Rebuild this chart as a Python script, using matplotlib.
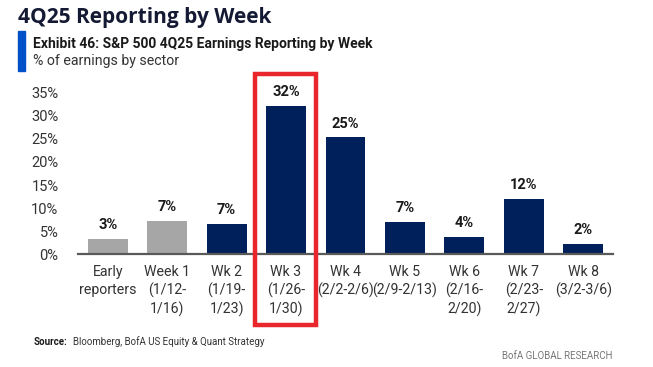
import matplotlib
matplotlib.use("Agg")
import matplotlib.pyplot as plt
from matplotlib.patches import Rectangle

# data
categories = ["Early\nreporters", "Week 1\n(1/12-\n1/16)", "Wk 2\n(1/19-\n1/23)",
              "Wk 3\n(1/26-\n1/30)", "Wk 4\n(2/2-2/6)", "Wk 5\n(2/9-2/13)",
              "Wk 6\n(2/16-\n2/20)", "Wk 7\n(2/23-\n2/27)", "Wk 8\n(3/2-3/6)"]
values = [3.4, 7.2, 6.6, 32.1, 25.3, 6.9, 3.7, 12.0, 2.2]
reported = [True, True, False, False, False, False, False, False, False]
yticks = [0, 5, 10, 15, 20, 25, 30, 35]

navy = "#00205b"
grey = "#a6a6a6"
txt = "#1a1a1a"

plt.rcParams['font.family'] = ['Roboto', 'DejaVu Sans']

fig = plt.figure(figsize=(6.53, 3.67), dpi=100)
ax = fig.add_axes([78/653, 1-254.3/367, 535/653, (254.3-92.7)/367])

x = range(len(values))
colors = [grey if r else navy for r in reported]
bars = ax.bar(x, values, width=0.67, color=colors, zorder=2)
for b, v in zip(bars, values):
    ax.annotate("{:.0f}%".format(v), (b.get_x() + b.get_width()/2, v),
                xytext=(0, 5), textcoords="offset points", ha="center", va="bottom",
                fontsize=10.5, fontweight="bold", color=txt, clip_on=False)

ax.set_xlim(-0.5, 8.5)
ax.set_ylim(0, 35)
ax.set_yticks(yticks)
ax.set_yticklabels(["{}%".format(t) for t in yticks], fontsize=10.5, color="#333333")
ax.set_xticks(list(x))
ax.set_xticklabels(categories, fontsize=10.2, color="#333333", linespacing=1.3)
ax.tick_params(axis="both", length=0)
ax.tick_params(axis="x", pad=8)
ax.tick_params(axis="y", pad=14)
for s in ["top", "right", "left"]:
    ax.spines[s].set_visible(False)
ax.spines["bottom"].set_color("#595959")
ax.spines["bottom"].set_linewidth(1.6)

# headings
fig.text(18/653, 1-18/367, "4Q25 Reporting by Week", fontsize=15, fontweight="bold",
         color="#141a33", va="center", family=['Open Sans', 'DejaVu Sans'])
fig.add_artist(Rectangle((18/653, 1-71/367), 7/653, 40/367, transform=fig.transFigure,
                         color="#0050c8"))
fig.text(33/653, 1-44/367, "Exhibit 46: S&P 500 4Q25 Earnings Reporting by Week",
         fontsize=10, fontweight="bold", color=txt, va="center")
fig.text(33/653, 1-61/367, "% of earnings by sector", fontsize=10.2, color="#333333",
         va="center")

# highlight box round week 3
fig.add_artist(Rectangle((255/653, 1-325/367), 61/653, 251/367, transform=fig.transFigure,
                         fill=False, edgecolor="#e8262b", linewidth=3.2))

fig.text(34/653, 1-342/367, "Source:", fontsize=7, fontweight="bold", color=txt, va="center")
fig.text(73/653, 1-342/367, "Bloomberg, BofA US Equity & Quant Strategy", fontsize=7,
         color="#333333", va="center")
fig.text(612/653, 1-356/367, "BofA GLOBAL RESEARCH", fontsize=7, color="#777777",
         va="center", ha="right")

fig.savefig("out.png", dpi=100)
